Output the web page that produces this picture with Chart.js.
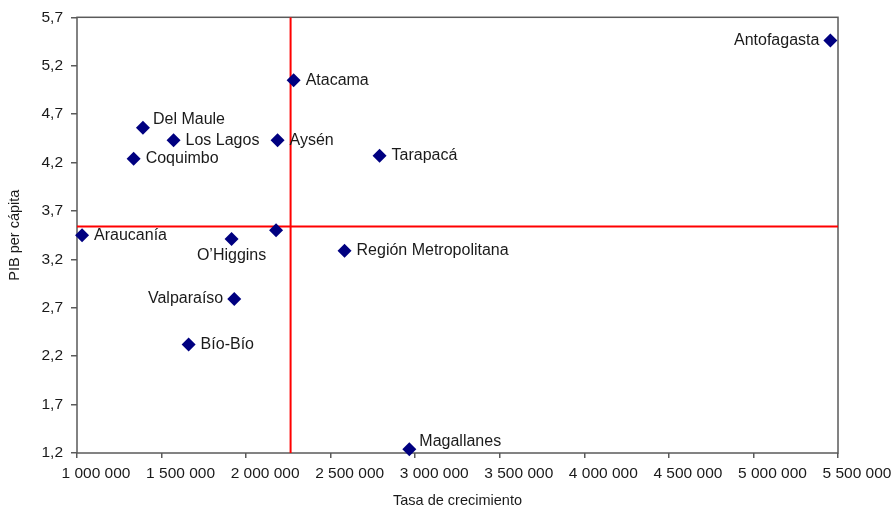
<!DOCTYPE html>
<html lang="es">
<head>
<meta charset="utf-8">
<title>PIB per cápita y tasa de crecimiento por región</title>
<script src="https://cdn.jsdelivr.net/npm/chart.js@4.4.1/dist/chart.umd.min.js"></script>
<style>
html,body{margin:0;padding:0;background:#fff;}
#wrap{width:894px;height:508px;}
</style>
</head>
<body>
<div id="wrap"><canvas id="regionChart" width="894" height="508"></canvas></div>
<script>

// =========================
// DATOS
// =========================

const regiones = [
    "Antofagasta",
    "Atacama",
    "Del Maule",
    "Los Lagos",
    "Aysén",
    "Coquimbo",
    "Tarapacá",
    "Araucanía",
    "O’Higgins",
    "",
    "Región Metropolitana",
    "Valparaíso",
    "Bío-Bío",
    "Magallanes"
];

const tasaCrecimiento = [
    5455000,
    2281000,
    1390000,
    1571000,
    2186000,
    1335000,
    2789000,
    1030000,
    1914000,
    2177000,
    2582000,
    1930000,
    1660000,
    2965000
];

const pibPerCapita = [
    5.46,
    5.05,
    4.56,
    4.43,
    4.43,
    4.24,
    4.27,
    3.45,
    3.41,
    3.50,
    3.29,
    2.79,
    2.32,
    1.24
];

// lineas rojas (cruce de cuadrantes)
const refCrecimiento = 2263000;
const refPib = 3.54;

const xTicks = [1000000, 1500000, 2000000, 2500000, 3000000, 3500000, 4000000, 4500000, 5000000, 5500000];
const yTicks = [1.2, 1.7, 2.2, 2.7, 3.2, 3.7, 4.2, 4.7, 5.2, 5.7];

// donde va cada etiqueta respecto al punto
const posEtiqueta = {
    "Antofagasta": "left",
    "Valparaíso": "left",
    "O’Higgins": "below",
    "Del Maule": "upright",
    "Magallanes": "upright"
};


// =========================
// PLUGINS
// =========================

const FONT = "'Liberation Sans', Arial, Helvetica, sans-serif";

const marcoPlugin = {
    id: "marco",
    beforeDatasetsDraw(chart) {
        const a = chart.chartArea;
        const ctx = chart.ctx;
        ctx.save();
        ctx.strokeStyle = "#5a5a5a";
        ctx.lineWidth = 1.5;
        ctx.strokeRect(a.left, a.top, a.right - a.left, a.bottom - a.top);
        ctx.restore();
    }
};

const etiquetasPlugin = {
    id: "etiquetas",
    afterDatasetsDraw(chart) {
        const meta = chart.getDatasetMeta(2);
        const ctx = chart.ctx;
        ctx.save();
        ctx.font = "16px " + FONT;
        ctx.fillStyle = "#1a1a1a";
        ctx.textBaseline = "middle";
        meta.data.forEach((pt, i) => {
            const nombre = regiones[i];
            if (!nombre) return;
            const pos = posEtiqueta[nombre] || "right";
            let x = pt.x;
            let y = pt.y;
            if (pos === "left") {
                ctx.textAlign = "right";
                x -= 11;
            } else if (pos === "below") {
                ctx.textAlign = "center";
                y += 17;
            } else if (pos === "upright") {
                ctx.textAlign = "left";
                x += 10;
                y -= 8;
            } else {
                ctx.textAlign = "left";
                x += 12;
            }
            ctx.fillText(nombre, x, y);
        });
        ctx.restore();
    }
};


// =========================
// GRAFICO
// =========================

const fmtMiles = v => String(Math.round(v)).replace(/\B(?=(\d{3})+(?!\d))/g, " ");

new Chart(document.getElementById("regionChart"), {

    type: "scatter",

    data: {
        datasets: [
            {
                data: [
                    { x: refCrecimiento, y: yTicks[0] },
                    { x: refCrecimiento, y: yTicks[yTicks.length - 1] }
                ],
                showLine: true,
                borderColor: "#ff0000",
                borderWidth: 2,
                pointRadius: 0,
                order: 2
            },
            {
                data: [
                    { x: xTicks[0], y: refPib },
                    { x: xTicks[xTicks.length - 1], y: refPib }
                ],
                showLine: true,
                borderColor: "#ff0000",
                borderWidth: 2,
                pointRadius: 0,
                order: 2
            },
            {
                data: tasaCrecimiento.map((x, i) => ({ x: x, y: pibPerCapita[i] })),
                pointStyle: "rectRot",
                pointRadius: 7,
                backgroundColor: "#000080",
                borderColor: "#000080",
                borderWidth: 0,
                clip: false,
                order: 0
            }
        ]
    },

    options: {
        responsive: false,
        animation: false,
        devicePixelRatio: 1,

        layout: {
            padding: { top: 15, right: 56, bottom: 0, left: 0 }
        },

        plugins: {
            legend: { display: false },
            tooltip: { enabled: false }
        },

        scales: {
            x: {
                type: "linear",
                min: xTicks[0],
                max: xTicks[xTicks.length - 1],
                afterBuildTicks: s => { s.ticks = xTicks.map(v => ({ value: v })); },
                afterFit: s => { s.height = 55; },
                border: { display: false },
                grid: {
                    drawOnChartArea: false,
                    drawTicks: true,
                    tickLength: 5,
                    color: "#5a5a5a",
                    lineWidth: 1.5
                },
                ticks: {
                    callback: v => fmtMiles(v),
                    labelOffset: 19,
                    padding: 6,
                    maxRotation: 0,
                    autoSkip: false,
                    color: "#1a1a1a",
                    font: { family: FONT, size: 15.5 }
                },
                title: {
                    display: true,
                    text: "Tasa de crecimiento",
                    color: "#1a1a1a",
                    padding: { top: 0, bottom: -2 },
                    font: { family: FONT, size: 14.5 }
                }
            },
            y: {
                type: "linear",
                min: yTicks[0],
                max: yTicks[yTicks.length - 1],
                afterBuildTicks: s => { s.ticks = yTicks.map(v => ({ value: v })); },
                afterFit: s => { s.width = 77; },
                border: { display: false },
                grid: {
                    drawOnChartArea: false,
                    drawTicks: true,
                    tickLength: 6,
                    color: "#5a5a5a",
                    lineWidth: 1.5
                },
                ticks: {
                    callback: v => v.toFixed(1).replace(".", ","),
                    padding: 8,
                    autoSkip: false,
                    color: "#1a1a1a",
                    font: { family: FONT, size: 15.5 }
                },
                title: {
                    display: true,
                    text: "PIB per cápita",
                    color: "#1a1a1a",
                    padding: { top: 6, bottom: 0 },
                    font: { family: FONT, size: 14.5 }
                }
            }
        }
    },

    plugins: [marcoPlugin, etiquetasPlugin]
});

</script>
</body>
</html>
